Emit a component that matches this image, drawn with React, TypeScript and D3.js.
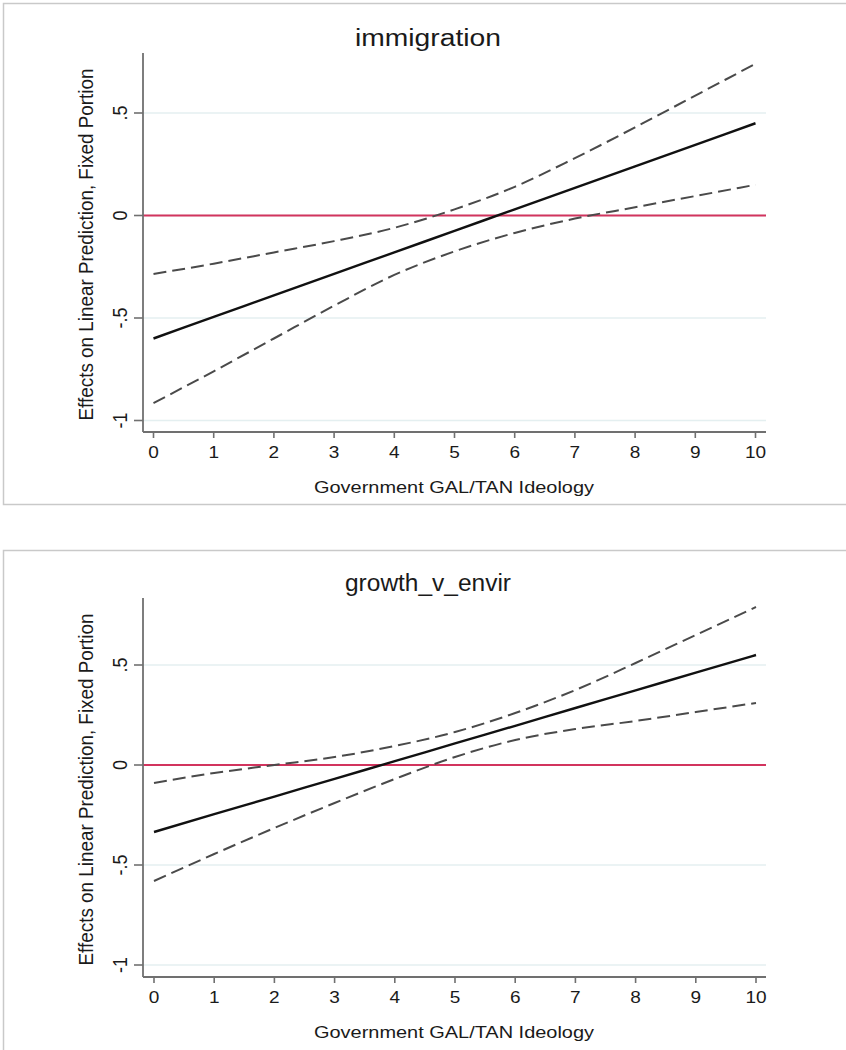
import React from "react";
import * as d3 from "d3";

const xValues = [0, 1, 2, 3, 4, 5, 6, 7, 8, 9, 10];
const xTicks = [0, 1, 2, 3, 4, 5, 6, 7, 8, 9, 10];
const yTicks = [0.5, 0, -0.5, -1];
const yTickLabels = [".5", "0", "-.5", "-1"];

const immigrationFit = [-0.6, -0.495, -0.39, -0.285, -0.18, -0.075, 0.03, 0.135, 0.24, 0.345, 0.45];
const immigrationUpper = [-0.285, -0.235, -0.18, -0.125, -0.06, 0.03, 0.14, 0.28, 0.43, 0.585, 0.74];
const immigrationLower = [-0.915, -0.76, -0.6, -0.44, -0.29, -0.175, -0.085, -0.015, 0.04, 0.095, 0.15];

const growthFit = [-0.335, -0.246, -0.158, -0.069, 0.019, 0.108, 0.196, 0.285, 0.373, 0.462, 0.55];
const growthUpper = [-0.09, -0.04, 0.0, 0.04, 0.095, 0.165, 0.26, 0.375, 0.51, 0.65, 0.79];
const growthLower = [-0.58, -0.445, -0.315, -0.19, -0.07, 0.04, 0.125, 0.18, 0.22, 0.265, 0.31];

const FONT = "Arial, 'Liberation Sans', Helvetica, sans-serif";

type PanelProps = {
  title: string;
  fit: number[];
  upper: number[];
  lower: number[];
  boxTop: number;
  boxBottom: number;
  x0: number;
  x1: number;
  yZero: number;
  yPerUnit: number;
  axisTop: number;
  axisBottom: number;
  titleY: number;
};

function Panel(p: PanelProps) {
  const x = d3.scaleLinear().domain([0, 10]).range([p.x0, p.x1]);
  const y = d3
    .scaleLinear()
    .domain([0, 1])
    .range([p.yZero, p.yZero - p.yPerUnit]);
  const axisX = 143;
  const plotRight = 766;
  const line = d3
    .line<number>()
    .x((_, i) => x(xValues[i]))
    .y((d) => y(d))
    .curve(d3.curveMonotoneX);
  const yTitleCenter = (p.axisTop + p.axisBottom) / 2 + 2;
  return (
    <g>
      <rect
        x={3.5}
        y={p.boxTop + 0.5}
        width={900}
        height={p.boxBottom - p.boxTop}
        fill="white"
        stroke="#c9c9c9"
        strokeWidth={1.5}
      />
      <text
        transform={`translate(428,${p.titleY})`}
        textAnchor="middle"
        fontFamily={FONT}
        fontSize={23}
        fill="#1a1a1a"
        textLength={p.title === "immigration" ? 146 : 166}
        lengthAdjust="spacingAndGlyphs"
      >
        {p.title}
      </text>
      {yTicks.map((t) => (
        <line
          key={"g" + t}
          x1={axisX}
          x2={plotRight}
          y1={y(t)}
          y2={y(t)}
          stroke="#e4eff0"
          strokeWidth={1.5}
        />
      ))}
      <line x1={axisX} x2={plotRight} y1={y(0)} y2={y(0)} stroke="#d2345e" strokeWidth={2.2} />
      <path d={line(p.upper) || ""} fill="none" stroke="#4a4a4a" strokeWidth={2} strokeDasharray="13,6" />
      <path d={line(p.lower) || ""} fill="none" stroke="#4a4a4a" strokeWidth={2} strokeDasharray="13,6" />
      <path d={line(p.fit) || ""} fill="none" stroke="#111" strokeWidth={2.4} />
      <line x1={axisX} x2={axisX} y1={p.axisTop} y2={p.axisBottom} stroke="#707070" strokeWidth={1.8} />
      <line x1={axisX} x2={plotRight} y1={p.axisBottom} y2={p.axisBottom} stroke="#707070" strokeWidth={1.8} />
      {yTicks.map((t, i) => (
        <g key={"yt" + t}>
          <line x1={axisX - 9} x2={axisX} y1={y(t)} y2={y(t)} stroke="#707070" strokeWidth={1.6} />
          <text
            transform={`translate(127,${y(t)}) scale(1.12,1) rotate(-90)`}
            textAnchor="middle"
            fontFamily={FONT}
            fontSize={18}
            fill="#1a1a1a"
          >
            {yTickLabels[i]}
          </text>
        </g>
      ))}
      {xTicks.map((t) => (
        <g key={"xt" + t}>
          <line x1={x(t)} x2={x(t)} y1={p.axisBottom} y2={p.axisBottom + 6} stroke="#707070" strokeWidth={1.6} />
          <text
            transform={`translate(${x(t)},${p.axisBottom + 26}) scale(1.12,1)`}
            textAnchor="middle"
            fontFamily={FONT}
            fontSize={17}
            fill="#1a1a1a"
          >
            {t}
          </text>
        </g>
      ))}
      <text
        transform={`translate(454,${p.axisBottom + 61})`}
        textAnchor="middle"
        fontFamily={FONT}
        fontSize={17}
        fill="#1a1a1a"
        textLength={280}
        lengthAdjust="spacingAndGlyphs"
      >
        Government GAL/TAN Ideology
      </text>
      <text
        transform={`translate(93,${yTitleCenter}) scale(1.12,1) rotate(-90)`}
        textAnchor="middle"
        fontFamily={FONT}
        fontSize={17.5}
        fill="#1a1a1a"
        textLength={352}
        lengthAdjust="spacingAndGlyphs"
      >
        Effects on Linear Prediction, Fixed Portion
      </text>
    </g>
  );
}

export default function App() {
  return (
    <svg
      width={846}
      height={1050}
      style={{ position: "absolute", left: 0, top: 0, background: "white" }}
    >
      <rect x={0} y={0} width={846} height={1050} fill="white" />
      <Panel
        title="immigration"
        fit={immigrationFit}
        upper={immigrationUpper}
        lower={immigrationLower}
        boxTop={3}
        boxBottom={504}
        x0={153.5}
        x1={755.5}
        yZero={215.5}
        yPerUnit={205}
        axisTop={53}
        axisBottom={432}
        titleY={46}
      />
      <Panel
        title="growth_v_envir"
        fit={growthFit}
        upper={growthUpper}
        lower={growthLower}
        boxTop={550}
        boxBottom={1100}
        x0={154}
        x1={756}
        yZero={765}
        yPerUnit={200}
        axisTop={598}
        axisBottom={977}
        titleY={591}
      />
    </svg>
  );
}
